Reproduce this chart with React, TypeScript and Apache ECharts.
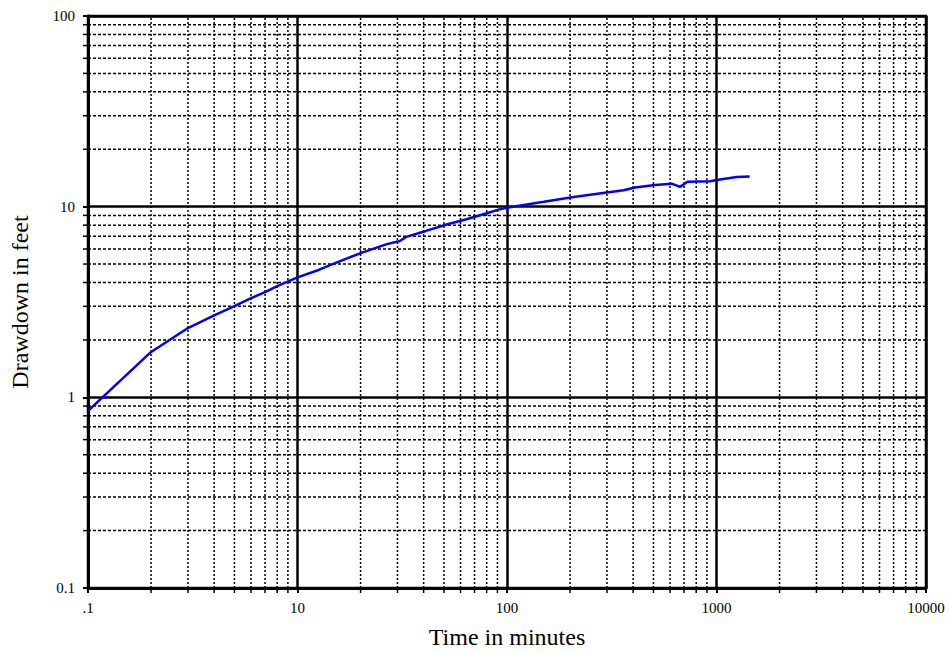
import React, { useEffect, useRef } from "react";
import * as echarts from "echarts";

// Pumping test drawdown data (time in minutes, drawdown in feet)
const timeMinutes = [1, 2, 3, 4, 5, 6, 7, 8, 10, 12.7, 14.3, 20, 26.7, 30.8, 33, 41, 52, 64, 80, 92, 100, 150, 204, 305, 360, 408, 509, 611, 670, 726, 931, 1040, 1248, 1440];
const drawdownFeet = [0.85, 1.73, 2.31, 2.69, 3.01, 3.31, 3.56, 3.83, 4.26, 4.67, 4.94, 5.71, 6.36, 6.61, 6.94, 7.46, 8.09, 8.59, 9.23, 9.68, 9.88, 10.6, 11.2, 11.9, 12.2, 12.6, 13.0, 13.2, 12.7, 13.5, 13.6, 13.9, 14.3, 14.4];

// Axis ticks
const xTickValues = [1, 10, 100, 1000, 10000];
const xTickLabels = [".1", "10", "100", "1000", "10000"];
const yTickValues = [0.1, 1, 10, 100];
const yTickLabels = ["0.1", "1", "10", "100"];

const X_MIN = 1;
const X_MAX = 10000;
const Y_MIN = 0.1;
const Y_MAX = 100;

const minorMultipliers = [2, 3, 4, 5, 6, 7, 8, 9];
const minorX: number[] = [];
[1, 10, 100, 1000].forEach((d) => minorMultipliers.forEach((m) => minorX.push(d * m)));
const minorY: number[] = [];
[0.1, 1, 10].forEach((d) => minorMultipliers.forEach((m) => minorY.push(+(d * m).toPrecision(3))));

const FONT = "Liberation Serif";

function minorSeries(axis: "x" | "y", values: number[]) {
  return {
    type: "custom",
    silent: true,
    z: 1,
    clip: false,
    data: values.map((v) => (axis === "x" ? [v, 1] : [1, v])),
    renderItem: (params: any, api: any) => {
      const v = values[params.dataIndex];
      if (axis === "x") {
        const p0 = api.coord([v, Y_MIN]);
        const p1 = api.coord([v, Y_MAX]);
        return {
          type: "group",
          children: [
            {
              type: "line",
              shape: { x1: p0[0], y1: p0[1], x2: p1[0], y2: p1[1] },
              style: { stroke: "#000", lineWidth: 1.5, lineDash: [2, 2] },
            },
            {
              type: "line",
              shape: { x1: p0[0], y1: p0[1], x2: p0[0], y2: p0[1] + 5 },
              style: { stroke: "#000", lineWidth: 1.5 },
            },
          ],
        };
      }
      const p0 = api.coord([X_MIN, v]);
      const p1 = api.coord([X_MAX, v]);
      return {
        type: "group",
        children: [
          {
            type: "line",
            shape: { x1: p0[0], y1: p0[1], x2: p1[0], y2: p1[1] },
            style: { stroke: "#000", lineWidth: 1.5, lineDash: [3, 2] },
          },
          {
            type: "line",
            shape: { x1: p0[0] - 5, y1: p0[1], x2: p0[0], y2: p0[1] },
            style: { stroke: "#000", lineWidth: 1.5 },
          },
        ],
      };
    },
  };
}

export default function App() {
  const ref = useRef<HTMLDivElement>(null);

  useEffect(() => {
    document.body.style.margin = "0";
    if (!ref.current) return;
    const chart = echarts.init(ref.current, null, { renderer: "svg" });
    const xLabelMap: Record<string, string> = {};
    xTickValues.forEach((v, i) => (xLabelMap[String(v)] = xTickLabels[i]));
    const yLabelMap: Record<string, string> = {};
    yTickValues.forEach((v, i) => (yLabelMap[String(v)] = yTickLabels[i]));

    chart.setOption({
      animation: false,
      backgroundColor: "#fff",
      textStyle: { fontFamily: FONT },
      grid: {
        left: 88,
        right: 22,
        top: 16,
        bottom: 63,
        show: true,
        borderColor: "#000",
        borderWidth: 2.5,
        z: 3,
      },
      xAxis: {
        type: "log",
        logBase: 10,
        min: X_MIN,
        max: X_MAX,
        z: 3,
        name: "Time in minutes",
        nameLocation: "middle",
        nameGap: 37,
        nameTextStyle: { fontFamily: FONT, fontSize: 24, color: "#000" },
        axisLine: { show: true, lineStyle: { color: "#000", width: 3 } },
        axisTick: { show: true, length: 5, lineStyle: { color: "#000", width: 2 } },
        axisLabel: {
          fontFamily: FONT,
          fontSize: 15,
          color: "#000",
          margin: 12,
          formatter: (v: number) => xLabelMap[String(v)] ?? String(v),
        },
        splitLine: { show: true, lineStyle: { color: "#000", width: 2.5 } },
      },
      yAxis: {
        type: "log",
        logBase: 10,
        min: Y_MIN,
        max: Y_MAX,
        z: 3,
        name: "Drawdown in feet",
        nameLocation: "middle",
        nameGap: 56,
        nameTextStyle: { fontFamily: FONT, fontSize: 24, color: "#000" },
        axisLine: { show: true, lineStyle: { color: "#000", width: 3 } },
        axisTick: { show: true, length: 5, lineStyle: { color: "#000", width: 2 } },
        axisLabel: {
          fontFamily: FONT,
          fontSize: 15,
          color: "#000",
          margin: 13,
          formatter: (v: number) => yLabelMap[String(v)] ?? String(v),
        },
        splitLine: { show: true, lineStyle: { color: "#000", width: 2.5 } },
      },
      series: [
        minorSeries("x", minorX),
        minorSeries("y", minorY),
        {
          type: "line",
          z: 5,
          showSymbol: false,
          symbol: "none",
          data: timeMinutes.map((t, i) => [t, drawdownFeet[i]]),
          lineStyle: { color: "#0000ff", width: 2.5 },
        },
      ],
    });
    return () => chart.dispose();
  }, []);

  return <div ref={ref} style={{ width: 948, height: 654 }} />;
}
